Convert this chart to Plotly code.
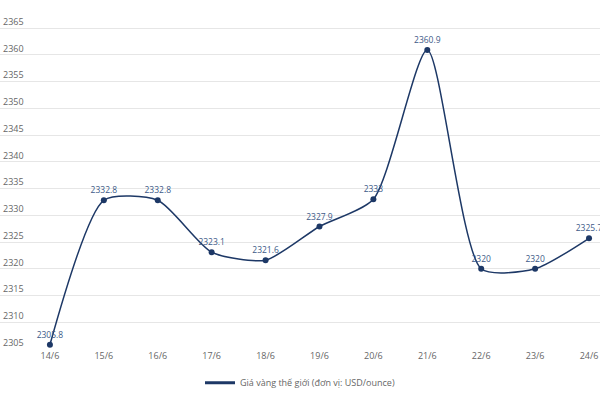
import plotly.graph_objects as go

dates = ["14/6", "15/6", "16/6", "17/6", "18/6", "19/6", "20/6", "21/6", "22/6", "23/6", "24/6"]
prices = [2305.8, 2332.8, 2332.8, 2323.1, 2321.6, 2327.9, 2333, 2360.9, 2320, 2320, 2325.7]
labels = ["2305.8", "2332.8", "2332.8", "2323.1", "2321.6", "2327.9", "2333", "2360.9", "2320", "2320", "2325.7"]
y_ticks = [2305, 2310, 2315, 2320, 2325, 2330, 2335, 2340, 2345, 2350, 2355, 2360, 2365]
series_name = "Giá vàng thế giới (đơn vị: USD/ounce)"

idx = list(range(len(dates)))
navy = "#1d3866"

fig = go.Figure()
fig.add_trace(go.Scatter(
    x=idx, y=prices,
    mode="lines+markers+text",
    line=dict(color=navy, width=1.5, shape="spline", smoothing=0.65),
    marker=dict(color=navy, size=6),
    text=labels, textposition="top center",
    textfont=dict(family="Open Sans", size=8.5, color="#3d5a88"),
    name=series_name, showlegend=False,
    cliponaxis=False,
))
fig.add_trace(go.Scatter(
    x=[None], y=[None], mode="lines",
    line=dict(color=navy, width=3),
    name=series_name, showlegend=True,
))

top_px = 8
bottom_px = 51
px_per_unit = 321 / 60
top_extra = (28 - top_px) / px_per_unit

fig.update_layout(
    width=600, height=400,
    margin=dict(l=0, r=0, t=top_px, b=bottom_px, autoexpand=False),
    paper_bgcolor="white", plot_bgcolor="white",
    font=dict(family="Open Sans", size=9, color="#666666"),
    showlegend=True,
    legend=dict(orientation="h", x=0.5, xanchor="center", yref="container", y=0.043, yanchor="middle",
                font=dict(size=9, color="#666666")),
    xaxis=dict(
        range=[-50/54, 10 + 11/54],
        tickmode="array", tickvals=idx, ticktext=dates,
        showgrid=False, zeroline=False, showline=False, automargin=False,
        tickfont=dict(size=9, color="#666666"),
    ),
    yaxis=dict(
        range=[2305, 2365 + top_extra],
        tickmode="array", tickvals=y_ticks,
        ticklabelposition="inside top", automargin=False,
        showgrid=True, gridcolor="#e6e6e6", gridwidth=1,
        zeroline=False, showline=False,
        tickfont=dict(size=9, color="#666666"),
    ),
)

fig.write_html("out.html", config={"displayModeBar": False},
               post_script="document.body.style.margin='0';document.body.style.padding='0';")
